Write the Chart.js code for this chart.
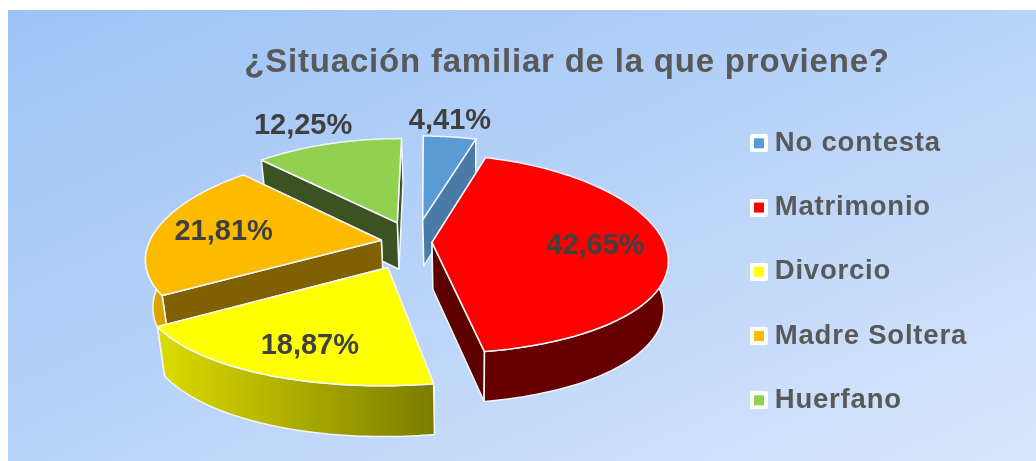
<!DOCTYPE html>
<html>
<head>
<meta charset="utf-8">
<script src="https://cdn.jsdelivr.net/npm/chart.js@4"></script>
<style>
  html, body { margin: 0; padding: 0; background: #fff; overflow: hidden; }
  #panel { position: absolute; left: 8px; top: 10px; width: 1028px; height: 451px;
           background: linear-gradient(to bottom right, #9cc3f6 0%, #b5d1f8 45%, #d8e6fb 100%); }
  #wrap { position: absolute; left: 0; top: 0; width: 1036px; height: 461px; }
</style>
</head>
<body>
<div id="panel"></div>
<div id="wrap"><canvas id="chart" width="1036" height="461"></canvas></div>
<script>
var categories = ['No contesta', 'Matrimonio', 'Divorcio', 'Madre Soltera', 'Huerfano'];
var percentages = [4.41, 42.65, 18.87, 21.81, 12.25];

var topColors = ['#5b9bd5', '#ff0000', '#ffff00', '#fdbb00', '#92d050'];
var cutColors = ['#4a7aa6', '#5c0000', '#7c7c00', '#806000', '#3b5323'];
var rimColors = ['#4a7aa6', '#660000', ['#dcdc00', '#7c7c00'], '#dba500', '#3b5323'];
var explode = [55, 17, 64, 34, 50];
var labelReach = [1.22, 0.7, 0.74, 0.7, 1.28];
var labelTurn = [-1, 0, -2, 0, -2];

// view of the tilted disc
var view = { cx: 415, cy: 242, radius: 232, tilt: 0.423, perspX: 0.00075, perspY: 0.0005, depth: 47, shrink: 0.977, vanishX: 470 };

function project(fx, fy, low) {
  var sx = 1 / (1 - view.perspX * fy);
  var sy = 1 / (1 - view.perspY * fy);
  var x = view.cx + fx * sx;
  var y = view.cy + fy * view.tilt * sy;
  if (low) {
    x = view.vanishX + (x - view.vanishX) * view.shrink;
    y += view.depth * Math.sqrt(sy);
  }
  return { x: x, y: y };
}

function rimPoint(apex, a, low) {
  return project(apex.fx + view.radius * Math.cos(a), apex.fy + view.radius * Math.sin(a), low);
}

function fillPath(ctx, pts, fill) {
  ctx.beginPath();
  pts.forEach(function(p, i) {
    if (i == 0) ctx.moveTo(p.x, p.y); else ctx.lineTo(p.x, p.y);
  });
  ctx.closePath();
  ctx.fillStyle = fill;
  ctx.fill();
  ctx.stroke();
}

function arcPoints(apex, a1, a2, low) {
  var pts = [];
  var steps = 60;
  for (var i = 0; i <= steps; i++) {
    pts.push(rimPoint(apex, a1 + (a2 - a1) * i / steps, low));
  }
  return pts;
}

var solidPie = {
  id: 'solidPie',
  beforeDatasetsDraw: function(chart) {
    var ctx = chart.ctx;
    var arcs = chart.getDatasetMeta(0).data;
    var order = arcs.map(function(arc, i) { return i; });
    var mid = function(arc) { return (arc.startAngle + arc.endAngle) / 2; };
    order.sort(function(p, q) { return Math.sin(mid(arcs[p])) - Math.sin(mid(arcs[q])); });

    ctx.save();
    ctx.letterSpacing = '0px';
    ctx.lineJoin = 'round';
    ctx.strokeStyle = '#f2f6fc';
    ctx.lineWidth = 1.5;
    order.forEach(function(i) {
      var arc = arcs[i];
      var m = mid(arc);
      var apex = { fx: explode[i] * Math.cos(m), fy: explode[i] * Math.sin(m) };
      var a1 = arc.startAngle, a2 = arc.endAngle;
      var top = project(apex.fx, apex.fy, false);
      var low = project(apex.fx, apex.fy, true);

      // cut faces, the one facing us last
      var cuts = Math.sin(a1) < Math.sin(a2) ? [a1, a2] : [a2, a1];
      cuts.forEach(function(a) {
        fillPath(ctx, [top, rimPoint(apex, a, false), rimPoint(apex, a, true), low], cutColors[i]);
      });

      // rim, only the part that faces us
      var from = Math.max(a1, -0.08), to = Math.min(a2, Math.PI + 0.08);
      if (to > from) {
        var upper = arcPoints(apex, from, to, false);
        var lower = arcPoints(apex, to, from, true);
        var fill = rimColors[i];
        if (Array.isArray(fill)) {
          var g = ctx.createLinearGradient(upper[upper.length - 1].x, 0, upper[0].x, 0);
          g.addColorStop(0, fill[0]);
          g.addColorStop(1, fill[1]);
          fill = g;
        }
        fillPath(ctx, upper.concat(lower), fill);
      }

      // top face
      fillPath(ctx, [top].concat(arcPoints(apex, a1, a2, false)), topColors[i]);
    });

    // percentage labels
    ctx.font = 'bold 29px "Liberation Sans"';
    ctx.fillStyle = '#404040';
    ctx.textAlign = 'center';
    ctx.textBaseline = 'middle';
    order.forEach(function(i) {
      var m = mid(arcs[i]) + labelTurn[i] * Math.PI / 180;
      var reach = labelReach[i] * view.radius + explode[i];
      var p = project(reach * Math.cos(m), reach * Math.sin(m), false);
      ctx.fillText(percentages[i].toFixed(2).replace('.', ',') + '%', p.x, p.y);
    });
    ctx.restore();
    return false;
  }
};

var spaced = {
  id: 'spaced',
  beforeLayout: function(chart) { chart.ctx.letterSpacing = '0.8px'; },
  beforeDraw: function(chart) { chart.ctx.letterSpacing = '0.8px'; }
};

function marker(color) {
  var c = document.createElement('canvas');
  c.width = 18;
  c.height = 18;
  var g = c.getContext('2d');
  g.fillStyle = '#fff';
  g.beginPath();
  g.roundRect(0, 0, 18, 18, 2);
  g.fill();
  g.fillStyle = color;
  g.fillRect(4, 4, 10, 10);
  return c;
}

new Chart(document.getElementById('chart'), {
  type: 'pie',
  data: {
    labels: categories,
    datasets: [{ data: percentages, backgroundColor: topColors, offset: explode, rotation: 0.5 }]
  },
  options: {
    responsive: false,
    animation: false,
    layout: { padding: { left: 157, right: 59, top: 0, bottom: 10 } },
    plugins: {
      tooltip: { enabled: false },
      title: {
        display: true,
        text: '¿Situación familiar de la que proviene?',
        color: '#595959',
        font: { family: '"Liberation Sans"', size: 33, weight: 'bold' },
        padding: { top: 43, bottom: 10 }
      },
      legend: {
        position: 'right',
        fullSize: false,
        labels: {
          color: '#595959',
          font: { family: '"Liberation Sans"', size: 27.5, weight: 'bold' },
          usePointStyle: true,
          pointStyleWidth: 4,
          padding: 36.75,
          generateLabels: function() {
            return categories.map(function(name, i) {
              return { text: name, fontColor: '#595959', pointStyle: marker(topColors[i]), lineWidth: 0, strokeStyle: 'transparent', fillStyle: topColors[i], index: i };
            });
          }
        }
      }
    }
  },
  plugins: [spaced, solidPie]
});
</script>
</body>
</html>
